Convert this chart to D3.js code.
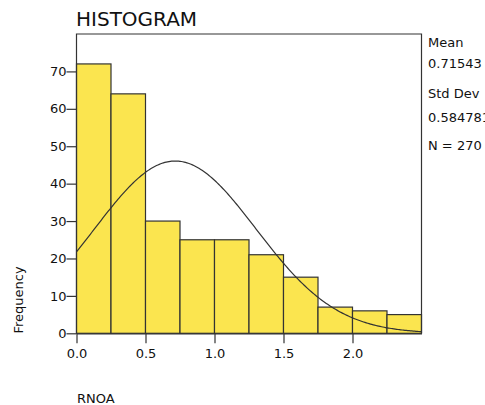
<html>
<head>
  <style>
  body { margin: 0; background: #fff; }
  #chart text { font-family: "DejaVu Sans", sans-serif; fill: #111; }
  #chart .tick text { font-size: 13px; }
  </style>
  <script src="https://d3js.org/d3.v7.min.js"></script>
</head>
<body>
  <svg id="chart"></svg>
</body>
  <script>
  // bin edges (RNOA) and counts per bin
  var binEdges = [0, 0.25, 0.5, 0.75, 1.0, 1.25, 1.5, 1.75, 2.0, 2.25, 2.5];
  var counts = [72, 64, 30, 25, 25, 21, 15, 7, 6, 5];
  var xTicks = [0, 0.5, 1.0, 1.5, 2.0];
  var yTicks = [0, 10, 20, 30, 40, 50, 60, 70];
  var statLabels = ["Mean", "0.71543", "Std Dev", "0.584781", "N = 270"];
  var mean = 0.71543, sd = 0.584781, n = 270;

  var width = 485, height = 405;
  var plotLeft = 76.5, plotRight = 421.5, plotTop = 34, plotBottom = 333.3;

  var svg = d3.select("#chart")
      .attr("width", width)
      .attr("height", height);

  var x = d3.scaleLinear().domain([0, 2.5]).range([plotLeft, plotRight]);
  var y = d3.scaleLinear().domain([0, 80]).range([plotBottom, plotTop]);

  // bars
  svg.selectAll("rect.bar")
      .data(counts)
    .enter().append("rect")
      .attr("class", "bar")
      .attr("x", function(d, i) { return x(binEdges[i]); })
      .attr("y", function(d) { return y(d); })
      .attr("width", function(d, i) { return x(binEdges[i + 1]) - x(binEdges[i]); })
      .attr("height", function(d) { return plotBottom - y(d); })
      .attr("fill", "#fbe54f")
      .attr("stroke", "#333")
      .attr("stroke-width", 1.2);

  // normal curve scaled to counts
  var bw = binEdges[1] - binEdges[0];
  var curve = d3.range(0, 2.5001, 0.01).map(function(v) {
    var z = (v - mean) / sd;
    return [v, n * bw * Math.exp(-0.5 * z * z) / (sd * Math.sqrt(2 * Math.PI))];
  });
  svg.append("path")
      .datum(curve)
      .attr("fill", "none")
      .attr("stroke", "#333")
      .attr("stroke-width", 1.2)
      .attr("d", d3.line().x(function(d) { return x(d[0]); }).y(function(d) { return y(d[1]); }));

  // frame
  svg.append("path")
      .attr("d", "M" + plotLeft + "," + plotBottom + "V" + plotTop + "H" + plotRight + "V" + plotBottom)
      .attr("fill", "none")
      .attr("stroke", "#333")
      .attr("stroke-width", 1.2);

  // axes
  var xAxis = svg.append("g")
      .attr("transform", "translate(0," + plotBottom + ")")
      .call(d3.axisBottom(x).tickValues(xTicks).tickFormat(d3.format(".1f")).tickSize(10).tickSizeOuter(0));
  var yAxis = svg.append("g")
      .attr("transform", "translate(" + plotLeft + ",0)")
      .call(d3.axisLeft(y).tickValues(yTicks).tickSize(10).tickSizeOuter(0));
  svg.selectAll(".domain").attr("stroke", "#333").attr("stroke-width", 1.2);
  svg.selectAll(".tick line").attr("stroke", "#333").attr("stroke-width", 1.2);
  xAxis.selectAll(".tick text").attr("dy", "0.95em").attr("y", 12);
  yAxis.selectAll(".tick text").attr("x", -10);
  svg.selectAll(".tick text").attr("fill", "#111");
  yAxis.select(".domain").remove();

  // title
  svg.append("text")
      .attr("x", 76)
      .attr("y", 26)
      .style("font-size", "20px")
      .text("HISTOGRAM");

  // stats on the right
  var statY = [47, 68, 98, 122, 150];
  svg.selectAll("text.stat")
      .data(statLabels)
    .enter().append("text")
      .attr("class", "stat")
      .attr("x", 428)
      .attr("y", function(d, i) { return statY[i]; })
      .style("font-size", "13px")
      .text(function(d) { return d; });

  // axis titles
  svg.append("text")
      .attr("transform", "translate(23,300) rotate(-90)")
      .attr("text-anchor", "middle")
      .style("font-size", "13px")
      .text("Frequency");
  svg.append("text")
      .attr("x", 77)
      .attr("y", 403)
      .style("font-size", "13px")
      .text("RNOA");
  </script>
</html>
